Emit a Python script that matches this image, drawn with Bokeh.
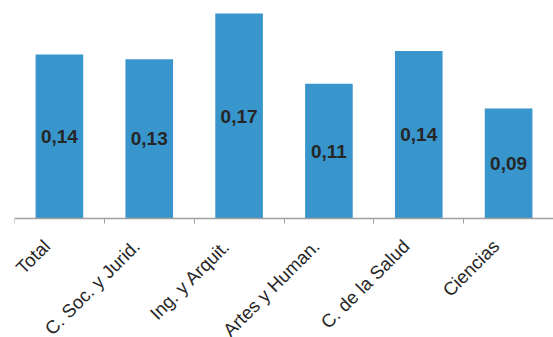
import math
from bokeh.plotting import figure
from bokeh.models import ColumnDataSource, FixedTicker, LabelSet, Range1d
from bokeh.core.properties import value
from bokeh.embed import file_html
from bokeh.resources import INLINE

categories = ["Total", "C. Soc. y Jurid.", "Ing. y Arquit.", "Artes y Human.", "C. de la Salud", "Ciencias"]
values = [0.140, 0.136, 0.175, 0.115, 0.143, 0.094]
value_labels = ["0,14", "0,13", "0,17", "0,11", "0,14", "0,09"]

n = len(categories)
centers = [i + 0.5 for i in range(n)]
src = ColumnDataSource(dict(x=centers, top=values, mid=[v / 2 for v in values], lab=value_labels))
cat_src = ColumnDataSource(dict(x=centers, y=[0] * n, cat=categories))

# frame covers the label area too; axis is pinned at y=0
p = figure(width=553, height=337, output_backend="svg", toolbar_location=None,
           x_range=Range1d(0, n), y_range=Range1d(-0.1016, 0.1862),
           min_border_left=14, min_border_right=0, min_border_top=0, min_border_bottom=0)
p.vbar(x="x", top="top", bottom=0, width=0.53, source=src, color="#3896cd", line_color=None)

labels = LabelSet(x="x", y="mid", text="lab", source=src, text_align="center", text_baseline="middle",
                  text_font=value("Liberation Sans"), text_font_style="bold", text_font_size="19px",
                  text_color="#262626")
p.add_layout(labels)

cat_labels = LabelSet(x="x", y="y", x_offset=-8, y_offset=-29, text="cat", source=cat_src,
                      angle=math.pi / 4, text_align="right", text_baseline="alphabetic",
                      text_font=value("Liberation Sans"), text_font_size="18.5px", text_color="#262626")
p.add_layout(cat_labels)

p.yaxis.visible = False
p.xgrid.visible = False
p.ygrid.visible = False
p.outline_line_color = None
p.background_fill_color = "white"
p.border_fill_color = "white"

ax = p.xaxis[0]
ax.fixed_location = 0
ax.ticker = FixedTicker(ticks=[], minor_ticks=list(range(n + 1)))
ax.major_label_text_font_size = "0px"
ax.major_tick_out = 0
ax.major_tick_in = 0
ax.minor_tick_out = 5
ax.minor_tick_in = 0
ax.minor_tick_line_color = "#a0a0a0"
ax.axis_line_color = "#a0a0a0"
ax.axis_line_width = 1.5

open("out.html", "w").write(file_html(p, INLINE))
